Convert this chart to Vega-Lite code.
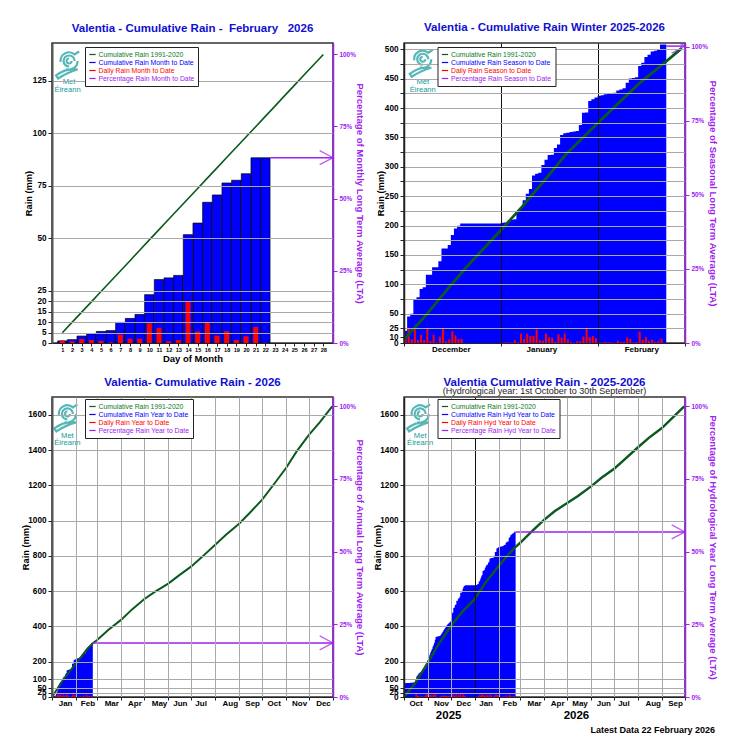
{"$schema":"https://vega.github.io/schema/vega-lite/v6.json","background":"white","padding":{"left":20,"top":21,"right":0,"bottom":0},"bounds":"flush","columns":2,"spacing":{"row":54,"column":71},"resolve":{"scale":{"x":"independent","y":"independent","color":"independent"},"legend":{"color":"independent"},"axis":{"x":"independent","y":"independent"}},
"config":{"font":"Liberation Sans","view":{"stroke":"#333","strokeWidth":1.5},"title":{"font":"Liberation Sans","fontSize":11.5,"fontWeight":"bold","color":"#1010d0","anchor":"middle","offset":9,"subtitleFont":"Liberation Sans","subtitleFontSize":9,"subtitleColor":"#222","subtitlePadding":-1.5},"axis":{"labelFont":"Liberation Sans","titleFont":"Liberation Sans","labelFontWeight":"bold","titleFontWeight":"bold","labelColor":"black","titleColor":"black","labelOverlap":false,"labelBound":false,"labelFlush":false,"tickColor":"#222"},"legend":{"labelFont":"Liberation Sans"}},
"datasets":{
"feb":[{"day":1,"cum":1,"daily":1.2,"lta":4.9},{"day":2,"cum":1.6,"daily":0.8,"lta":9.8},{"day":3,"cum":3.3,"daily":1.9,"lta":14.7},{"day":4,"cum":4.4,"daily":1.4,"lta":19.6},{"day":5,"cum":5.5,"daily":1,"lta":24.5},{"day":6,"cum":5.9,"daily":0.3,"lta":29.4},{"day":7,"cum":9.8,"daily":4,"lta":34.3},{"day":8,"cum":11.7,"daily":2,"lta":39.2},{"day":9,"cum":13.6,"daily":2,"lta":44.2},{"day":10,"cum":23,"daily":9.4,"lta":49.1},{"day":11,"cum":30.2,"daily":7.2,"lta":54},{"day":12,"cum":31,"daily":0.8,"lta":58.9},{"day":13,"cum":32.2,"daily":1.4,"lta":63.8},{"day":14,"cum":51.6,"daily":19.5,"lta":68.7},{"day":15,"cum":57.1,"daily":5.5,"lta":73.6},{"day":16,"cum":67,"daily":10,"lta":78.5},{"day":17,"cum":70.5,"daily":3.5,"lta":83.4},{"day":18,"cum":76.2,"daily":5.6,"lta":88.3},{"day":19,"cum":77.5,"daily":1.4,"lta":93.2},{"day":20,"cum":80.6,"daily":3.2,"lta":98.1},{"day":21,"cum":88.2,"daily":7.6,"lta":103},{"day":22,"cum":88.2,"daily":0.1,"lta":107.9},{"day":23,"lta":112.8},{"day":24,"lta":117.8},{"day":25,"lta":122.7},{"day":26,"lta":127.6},{"day":27,"lta":132.5},{"day":28,"lta":137.4}],
"days":[{"date":"2025-10-01","daily":0,"hyd":78},{"date":"2025-10-02","daily":0,"hyd":78},{"date":"2025-10-03","daily":0,"hyd":79},{"date":"2025-10-04","daily":0,"hyd":79},{"date":"2025-10-05","daily":0,"hyd":79},{"date":"2025-10-06","daily":0,"hyd":80},{"date":"2025-10-07","daily":0,"hyd":80},{"date":"2025-10-08","daily":0,"hyd":80},{"date":"2025-10-09","daily":0,"hyd":81},{"date":"2025-10-10","daily":0,"hyd":81},{"date":"2025-10-11","daily":0,"hyd":81},{"date":"2025-10-12","daily":0,"hyd":82},{"date":"2025-10-13","daily":0,"hyd":82},{"date":"2025-10-14","daily":0,"hyd":82},{"date":"2025-10-15","daily":0,"hyd":83},{"date":"2025-10-16","daily":17,"hyd":100},{"date":"2025-10-17","daily":17,"hyd":117},{"date":"2025-10-18","daily":5,"hyd":122},{"date":"2025-10-19","daily":6,"hyd":128},{"date":"2025-10-20","daily":7,"hyd":135},{"date":"2025-10-21","daily":3,"hyd":138},{"date":"2025-10-22","daily":2,"hyd":140},{"date":"2025-10-23","daily":3,"hyd":143},{"date":"2025-10-24","daily":5,"hyd":148},{"date":"2025-10-25","daily":2,"hyd":150},{"date":"2025-10-26","daily":2,"hyd":152},{"date":"2025-10-27","daily":4,"hyd":156},{"date":"2025-10-28","daily":4,"hyd":160},{"date":"2025-10-29","daily":15,"hyd":175},{"date":"2025-10-30","daily":15,"hyd":190},{"date":"2025-10-31","daily":15,"hyd":205},
{"date":"2025-11-01","daily":10,"hyd":215},{"date":"2025-11-02","daily":13,"hyd":228},{"date":"2025-11-03","daily":12,"hyd":240},{"date":"2025-11-04","daily":12,"hyd":252},{"date":"2025-11-05","daily":10,"hyd":262},{"date":"2025-11-06","daily":10,"hyd":272},{"date":"2025-11-07","daily":13,"hyd":285},{"date":"2025-11-08","daily":12,"hyd":297},{"date":"2025-11-09","daily":11,"hyd":308},{"date":"2025-11-10","daily":17,"hyd":325},{"date":"2025-11-11","daily":15,"hyd":340},{"date":"2025-11-12","daily":2,"hyd":342},{"date":"2025-11-13","daily":1,"hyd":343},{"date":"2025-11-14","daily":1,"hyd":344},{"date":"2025-11-15","daily":1,"hyd":345},{"date":"2025-11-16","daily":1,"hyd":346},{"date":"2025-11-17","daily":4,"hyd":350},{"date":"2025-11-18","daily":6,"hyd":356},{"date":"2025-11-19","daily":8,"hyd":364},{"date":"2025-11-20","daily":6,"hyd":370},{"date":"2025-11-21","daily":8,"hyd":378},{"date":"2025-11-22","daily":6,"hyd":384},{"date":"2025-11-23","daily":8,"hyd":392},{"date":"2025-11-24","daily":8,"hyd":400},{"date":"2025-11-25","daily":5,"hyd":405},{"date":"2025-11-26","daily":6,"hyd":411},{"date":"2025-11-27","daily":5,"hyd":416},{"date":"2025-11-28","daily":4,"hyd":420},{"date":"2025-11-29","daily":4,"hyd":424},{"date":"2025-11-30","daily":4,"hyd":428},
{"date":"2025-12-01","daily":7,"hyd":451,"winter":21},{"date":"2025-12-02","daily":24,"hyd":475,"winter":45},{"date":"2025-12-03","daily":6,"hyd":480,"winter":50},{"date":"2025-12-04","daily":24,"hyd":505,"winter":75},{"date":"2025-12-05","daily":5,"hyd":508,"winter":78},{"date":"2025-12-06","daily":14,"hyd":522,"winter":92},{"date":"2025-12-07","daily":5,"hyd":525,"winter":95},{"date":"2025-12-08","daily":24,"hyd":546,"winter":116},{"date":"2025-12-09","daily":3,"hyd":546,"winter":116},{"date":"2025-12-10","daily":14,"hyd":559,"winter":129},{"date":"2025-12-11","daily":1,"hyd":559,"winter":129},{"date":"2025-12-12","daily":11,"hyd":569,"winter":139},{"date":"2025-12-13","daily":24,"hyd":591,"winter":161},{"date":"2025-12-14","daily":3,"hyd":591,"winter":161},{"date":"2025-12-15","daily":6,"hyd":597,"winter":167},{"date":"2025-12-16","daily":20,"hyd":614,"winter":184},{"date":"2025-12-17","daily":13,"hyd":625,"winter":195},{"date":"2025-12-18","daily":7,"hyd":629.5,"winter":199.5},{"date":"2025-12-19","daily":7,"hyd":633.5,"winter":203.5},{"date":"2025-12-20","daily":0,"hyd":633.5,"winter":203.5},{"date":"2025-12-21","daily":0,"hyd":633.5,"winter":203.5},{"date":"2025-12-22","daily":0,"hyd":633.5,"winter":203.5},{"date":"2025-12-23","daily":0,"hyd":633.5,"winter":203.5},{"date":"2025-12-24","daily":0,"hyd":633.5,"winter":203.5},{"date":"2025-12-25","daily":0,"hyd":633.5,"winter":203.5},{"date":"2025-12-26","daily":0,"hyd":633.5,"winter":203.5},{"date":"2025-12-27","daily":0,"hyd":633.5,"winter":203.5},{"date":"2025-12-28","daily":0,"hyd":633.5,"winter":203.5},{"date":"2025-12-29","daily":0,"hyd":633.5,"winter":203.5},{"date":"2025-12-30","daily":0,"hyd":633.5,"winter":203.5},{"date":"2025-12-31","daily":0,"hyd":633.5,"winter":203.5},
{"date":"2026-01-01","daily":1,"hyd":634.5,"winter":204.5,"year":1},{"date":"2026-01-02","daily":1,"hyd":635,"winter":205,"year":1.5},{"date":"2026-01-03","daily":1,"hyd":636,"winter":206,"year":2.5},{"date":"2026-01-04","daily":1,"hyd":640,"winter":210,"year":6.5},{"date":"2026-01-05","daily":5,"hyd":640.5,"winter":210.5,"year":7},{"date":"2026-01-06","daily":1,"hyd":654,"winter":224,"year":20.5},{"date":"2026-01-07","daily":16,"hyd":660,"winter":230,"year":26.5},{"date":"2026-01-08","daily":7,"hyd":673,"winter":243,"year":39.5},{"date":"2026-01-09","daily":16,"hyd":684,"winter":254,"year":50.5},{"date":"2026-01-10","daily":12,"hyd":692,"winter":262,"year":58.5},{"date":"2026-01-11","daily":12,"hyd":715,"winter":285,"year":81.5},{"date":"2026-01-12","daily":23,"hyd":718,"winter":288,"year":84.5},{"date":"2026-01-13","daily":5,"hyd":720,"winter":290,"year":86.5},{"date":"2026-01-14","daily":4,"hyd":733,"winter":303,"year":99.5},{"date":"2026-01-15","daily":16,"hyd":742,"winter":312,"year":108.5},{"date":"2026-01-16","daily":10,"hyd":750,"winter":320,"year":116.5},{"date":"2026-01-17","daily":9,"hyd":750.5,"winter":320.5,"year":117},{"date":"2026-01-18","daily":2,"hyd":762,"winter":332,"year":128.5},{"date":"2026-01-19","daily":15,"hyd":768,"winter":338,"year":134.5},{"date":"2026-01-20","daily":9,"hyd":784,"winter":354,"year":150.5},{"date":"2026-01-21","daily":16,"hyd":787,"winter":357,"year":153.5},{"date":"2026-01-22","daily":6,"hyd":788,"winter":358,"year":154.5},{"date":"2026-01-23","daily":2,"hyd":789,"winter":359,"year":155.5},{"date":"2026-01-24","daily":0.5,"hyd":790,"winter":360,"year":156.5},{"date":"2026-01-25","daily":3,"hyd":791,"winter":361,"year":157.5},{"date":"2026-01-26","daily":3,"hyd":801,"winter":371,"year":167.5},{"date":"2026-01-27","daily":11,"hyd":822,"winter":392,"year":188.5},{"date":"2026-01-28","daily":25,"hyd":822.5,"winter":392.5,"year":189},{"date":"2026-01-29","daily":10,"hyd":842,"winter":412,"year":208.5},{"date":"2026-01-30","daily":12,"hyd":845,"winter":415,"year":211.5},{"date":"2026-01-31","daily":8,"hyd":848,"winter":418,"year":214.5},
{"date":"2026-02-01","daily":1.2,"hyd":851,"winter":421,"year":217.5},{"date":"2026-02-02","daily":0.8,"hyd":851.6,"winter":421.6,"year":218.1},{"date":"2026-02-03","daily":1.9,"hyd":853.3,"winter":423.3,"year":219.8},{"date":"2026-02-04","daily":1.4,"hyd":854.4,"winter":424.4,"year":220.9},{"date":"2026-02-05","daily":1,"hyd":855.5,"winter":425.5,"year":222},{"date":"2026-02-06","daily":0.3,"hyd":855.9,"winter":425.9,"year":222.4},{"date":"2026-02-07","daily":4,"hyd":859.8,"winter":429.8,"year":226.3},{"date":"2026-02-08","daily":2,"hyd":861.7,"winter":431.7,"year":228.2},{"date":"2026-02-09","daily":2,"hyd":863.6,"winter":433.6,"year":230.1},{"date":"2026-02-10","daily":9.4,"hyd":873,"winter":443,"year":239.5},{"date":"2026-02-11","daily":7.2,"hyd":880.2,"winter":450.2,"year":246.7},{"date":"2026-02-12","daily":0.8,"hyd":881,"winter":451,"year":247.5},{"date":"2026-02-13","daily":1.4,"hyd":882.2,"winter":452.2,"year":248.7},{"date":"2026-02-14","daily":19.5,"hyd":901.6,"winter":471.6,"year":268.1},{"date":"2026-02-15","daily":5.5,"hyd":907.1,"winter":477.1,"year":273.6},{"date":"2026-02-16","daily":10,"hyd":917,"winter":487,"year":283.5},{"date":"2026-02-17","daily":3.5,"hyd":920.5,"winter":490.5,"year":287},{"date":"2026-02-18","daily":5.6,"hyd":926.2,"winter":496.2,"year":292.7},{"date":"2026-02-19","daily":1.4,"hyd":927.5,"winter":497.5,"year":294},{"date":"2026-02-20","daily":3.2,"hyd":930.6,"winter":500.6,"year":297.1},{"date":"2026-02-21","daily":7.6,"hyd":938.2,"winter":508.2,"year":304.7},{"date":"2026-02-22","daily":0.1,"hyd":938.2,"winter":508.2,"year":304.7},{"date":"2026-02-23","hyd":938.2,"winter":508.2,"year":304.7}],
"ltaWinter":[{"date":"2025-12-01","lta":6},{"date":"2025-12-08","lta":47},{"date":"2025-12-15","lta":92},{"date":"2025-12-22","lta":135},{"date":"2026-01-01","lta":192},{"date":"2026-01-08","lta":233},{"date":"2026-01-15","lta":277},{"date":"2026-01-22","lta":322},{"date":"2026-02-01","lta":374},{"date":"2026-02-08","lta":410},{"date":"2026-02-15","lta":445},{"date":"2026-02-22","lta":475},{"date":"2026-02-28","lta":502}],
"ltaYear":[{"date":"2026-01-01","lta":0},{"date":"2026-01-15","lta":95},{"date":"2026-02-01","lta":190},{"date":"2026-02-15","lta":268},{"date":"2026-02-23","lta":305},{"date":"2026-03-01","lta":325},{"date":"2026-03-15","lta":380},{"date":"2026-04-01","lta":439},{"date":"2026-04-15","lta":497},{"date":"2026-05-01","lta":556},{"date":"2026-05-15","lta":598},{"date":"2026-06-01","lta":643},{"date":"2026-06-15","lta":690},{"date":"2026-07-01","lta":741},{"date":"2026-07-15","lta":795},{"date":"2026-08-01","lta":864},{"date":"2026-08-15","lta":920},{"date":"2026-09-01","lta":983},{"date":"2026-09-15","lta":1045},{"date":"2026-10-01","lta":1120},{"date":"2026-10-15","lta":1200},{"date":"2026-11-01","lta":1299},{"date":"2026-11-15","lta":1395},{"date":"2026-12-01","lta":1488},{"date":"2026-12-15","lta":1560},{"date":"2026-12-31","lta":1649}],
"ltaHyd":[{"date":"2025-10-01","lta":0},{"date":"2025-10-15","lta":75},{"date":"2025-11-01","lta":195},{"date":"2025-11-15","lta":300},{"date":"2025-12-01","lta":403},{"date":"2025-12-15","lta":480},{"date":"2026-01-01","lta":556},{"date":"2026-01-15","lta":650},{"date":"2026-02-01","lta":743},{"date":"2026-02-15","lta":815},{"date":"2026-02-22","lta":848},{"date":"2026-03-01","lta":875},{"date":"2026-03-15","lta":935},{"date":"2026-04-01","lta":1005},{"date":"2026-04-15","lta":1055},{"date":"2026-05-01","lta":1100},{"date":"2026-05-15","lta":1140},{"date":"2026-06-01","lta":1195},{"date":"2026-06-15","lta":1245},{"date":"2026-07-01","lta":1295},{"date":"2026-07-15","lta":1350},{"date":"2026-08-01","lta":1417},{"date":"2026-08-15","lta":1470},{"date":"2026-09-01","lta":1526},{"date":"2026-09-15","lta":1585},{"date":"2026-09-30","lta":1649}]
},
"concat":[
{"width":281,"height":300,"title":"Valentia - Cumulative Rain -\u00a0 February\u00a0\u00a0 2026","resolve":{"scale":{"y":"independent"}},
"encoding":{"x":{"field":"day","type":"quantitative","title":"Day of Month","scale":{"domain":[-0.07,29],"nice":false,"zero":false,"padding":0},"axis":{"values":[1,2,3,4,5,6,7,8,9,10,11,12,13,14,15,16,17,18,19,20,21,22,23,24,25,26,27,28],"grid":false,"labelFontSize":5.6,"tickSize":3,"labelPadding":1,"titleFontSize":9.5,"titlePadding":1,"domainColor":"#222","zindex":1}}},
"layer":[
{"encoding":{"y":{"type":"quantitative","scale":{"domain":[0,142.86]},"axis":{"title":"Rain (mm)","titleFontSize":9.3,"titleX":-19,"values":[0,5,10,15,20,25,50,75,100,125],"grid":true,"gridColor":"#aaa","labelFontSize":8.2,"tickSize":4,"domainColor":"#555","domainWidth":2,"zindex":1}}},"layer":[
{"data":{"name":"feb"},"mark":{"type":"bar","width":9.4,"stroke":"black","strokeWidth":0.7},"encoding":{"color":{"datum":"Cumulative Rain Month to Date","scale":{"domain":["Cumulative Rain 1991-2020","Cumulative Rain Month to Date","Daily Rain Month to Date","Percentage Rain Month to Date"],"range":["#0a5a1e","#0000ff","#ff0000","#a020f0"]},"legend":{"title":null,"orient":"none","legendX":33,"legendY":4,"zindex":2,"fillColor":"white","strokeColor":"#222","padding":3.5,"symbolType":"stroke","symbolSize":40,"symbolStrokeWidth":1.2,"labelFontSize":6.85,"labelOffset":2,"rowPadding":0,"labelColor":"#333","encoding":{"labels":{"fill":{"value":{"expr":"indexof(datum.label,'1991')>=0?'#0a7a1e':indexof(datum.label,'Cumulative')>=0?'#0000ff':indexof(datum.label,'Daily')>=0?'#ff0000':'#a020f0'"}}}}}},"y":{"field":"cum"}}},
{"data":{"name":"feb"},"mark":{"type":"bar","width":5},"encoding":{"color":{"datum":"Daily Rain Month to Date"},"y":{"field":"daily"}}},
{"data":{"name":"feb"},"mark":{"type":"line","strokeWidth":1.6},"encoding":{"color":{"datum":"Cumulative Rain 1991-2020"},"y":{"field":"lta"}}},
{"data":{"values":[{"day":1.7,"rain":134.3}]},"mark":{"type":"point","shape":"M0.25,0 A0.25,0.25 0 1 1 0,-0.25 M0,0.55 A0.55,0.55 0 1 1 0.55,0 M-0.85,0.1 A0.85,0.85 0 0 1 0.55,-0.65 L1,-0.95 M0.85,0 A0.85,0.85 0 0 1 -0.3,0.8 M-1.3,1.45 Q-0.3,0.7 0.85,0.85 Q-0.1,1.1 -1.1,1.75 Z","size":400,"filled":false,"color":"#0f9a9a","strokeWidth":2.2},"encoding":{"y":{"field":"rain"}}},
{"data":{"values":[{"day":1.7,"rain":124.3,"label":"Met"},{"day":1.55,"rain":120.7,"label":"Éireann"}]},"mark":{"type":"text","color":"#0f9a9a","fontSize":7.6},"encoding":{"text":{"field":"label"},"y":{"field":"rain"}}}
]},
{"encoding":{"y":{"type":"quantitative","scale":{"domain":[0,103.9]},"axis":{"orient":"right","title":"Percentage  of Monthly Long Term Average (LTA)","titleColor":"#a020f0","titleFontSize":9.6,"titleX":21,"values":[0,25,50,75,100],"labelExpr":"datum.value+'%'","labelColor":"#a020f0","labelFontSize":6.4,"tickColor":"#a020f0","domainColor":"#a020f0","domainWidth":1.5,"tickSize":4,"grid":false,"zindex":1}}},"layer":[
{"data":{"values":[{"day":22.5,"end":29,"pct":64.2}]},"mark":{"type":"rule","strokeWidth":1.5},"encoding":{"color":{"datum":"Percentage Rain Month to Date"},"x2":{"field":"end"},"y":{"field":"pct"}}},
{"data":{"values":[{"day":29,"pct":64.2}]},"mark":{"type":"point","shape":"M-1.9,-1 L0,0 L-1.9,1","size":196,"filled":false,"strokeWidth":1.3},"encoding":{"color":{"datum":"Percentage Rain Month to Date"},"y":{"field":"pct"}}}
]}
]},
{"width":281,"height":300,"title":"Valentia - Cumulative Rain Winter 2025-2026","resolve":{"scale":{"y":"independent"}},
"encoding":{"x":{"field":"date","type":"temporal","title":null,"scale":{"type":"utc","domain":["2025-12-01","2026-03-01"],"padding":0},"axis":{"values":["2025-12-01","2025-12-16","2026-01-01","2026-01-14","2026-02-01","2026-02-15","2026-03-01"],"labelExpr":"utcdate(datum.value)==1?'':utcFormat(datum.value,'%B')","grid":true,"gridColor":"#111","gridOpacity":{"condition":{"test":"utcdate(datum.value)!=1","value":0},"value":1},"tickSize":{"condition":{"test":"utcdate(datum.value)!=1","value":0},"value":3},"labelFontSize":8,"labelPadding":2,"domainColor":"#222","zindex":1}}},
"layer":[
{"encoding":{"y":{"type":"quantitative","scale":{"domain":[0,510.7]},"axis":{"title":"Rain (mm)","titleFontSize":9.3,"titleX":-19,"values":[0,10,25,50,75,100,125,150,175,200,225,250,275,300,325,350,375,400,425,450,475,500],"labelExpr":"datum.value==0||datum.value==10||datum.value==25||datum.value%50==0?datum.value:''","grid":true,"gridColor":"#aaa","gridOpacity":{"condition":{"test":"datum.value==10","value":0},"value":1},"labelFontSize":8.2,"tickSize":4,"domainColor":"#222","domainWidth":1.5,"zindex":1}}},"layer":[
{"data":{"name":"days"},"mark":{"type":"area","interpolate":"step-after"},"encoding":{"color":{"datum":"Cumulative Rain Season to Date","scale":{"domain":["Cumulative Rain 1991-2020","Cumulative Rain Season to Date","Daily Rain Season to Date","Percentage Rain Season to Date"],"range":["#0a5a1e","#0000ff","#ff0000","#a020f0"]},"legend":{"title":null,"orient":"none","legendX":33.5,"legendY":4,"zindex":2,"fillColor":"white","strokeColor":"#222","padding":3.5,"symbolType":"stroke","symbolSize":40,"symbolStrokeWidth":1.2,"labelFontSize":6.85,"labelOffset":2,"rowPadding":0,"encoding":{"labels":{"fill":{"value":{"expr":"indexof(datum.label,'1991')>=0?'#0a7a1e':indexof(datum.label,'Cumulative')>=0?'#0000ff':indexof(datum.label,'Daily')>=0?'#ff0000':'#a020f0'"}}}}}},"y":{"field":"winter"}}},
{"data":{"name":"days"},"transform":[{"filter":"datum.winter!=null"}],"mark":{"type":"bar","width":2,"xOffset":1.5},"encoding":{"color":{"datum":"Daily Rain Season to Date"},"y":{"field":"daily"}}},
{"data":{"name":"ltaWinter"},"mark":{"type":"line","strokeWidth":2.8},"encoding":{"color":{"datum":"Cumulative Rain 1991-2020"},"y":{"field":"lta"}}},
{"data":{"values":[{"date":"2025-12-07","rain":483}]},"mark":{"type":"point","shape":"M0.25,0 A0.25,0.25 0 1 1 0,-0.25 M0,0.55 A0.55,0.55 0 1 1 0.55,0 M-0.85,0.1 A0.85,0.85 0 0 1 0.55,-0.65 L1,-0.95 M0.85,0 A0.85,0.85 0 0 1 -0.3,0.8 M-1.3,1.45 Q-0.3,0.7 0.85,0.85 Q-0.1,1.1 -1.1,1.75 Z","size":400,"filled":false,"color":"#0f9a9a","strokeWidth":2.2},"encoding":{"y":{"field":"rain"}}},
{"data":{"values":[{"date":"2025-12-07","rain":444,"label":"Met"},{"date":"2025-12-07","rain":431,"label":"Éireann"}]},"mark":{"type":"text","color":"#0f9a9a","fontSize":7.6},"encoding":{"text":{"field":"label"},"y":{"field":"rain"}}}
]},
{"encoding":{"y":{"type":"quantitative","scale":{"domain":[0,101.35]},"axis":{"orient":"right","title":"Percentage of Seasonal Long Term Average (LTA)","titleColor":"#a020f0","titleFontSize":9.6,"titleX":22,"values":[0,25,50,75,100],"labelExpr":"datum.value+'%'","labelColor":"#a020f0","labelFontSize":6.4,"tickColor":"#a020f0","domainColor":"#a020f0","domainWidth":1.5,"tickSize":4,"grid":false,"zindex":1}}},"layer":[
{"data":{"values":[{"date":"2026-02-23","end":"2026-03-01","pct":100.3}]},"mark":{"type":"rule","strokeWidth":1.5},"encoding":{"color":{"datum":"Percentage Rain Season to Date"},"x2":{"field":"end"},"y":{"field":"pct"}}},
{"data":{"values":[{"date":"2026-03-01","pct":100.3}]},"mark":{"type":"point","shape":"M-1.9,-1 L0,0 L-1.9,1","size":196,"filled":false,"strokeWidth":1.3,"clip":true},"encoding":{"color":{"datum":"Percentage Rain Season to Date"},"y":{"field":"pct"}}}
]}
]},
{"width":281,"height":300,"title":"Valentia- Cumulative Rain - 2026","resolve":{"scale":{"y":"independent"}},
"encoding":{"x":{"field":"date","type":"temporal","title":null,"scale":{"type":"utc","domain":["2026-01-01","2027-01-01"],"padding":0},"axis":{"values":["2026-01-01","2026-01-18","2026-02-01","2026-02-16","2026-03-01","2026-03-19","2026-04-01","2026-04-18","2026-05-01","2026-05-20","2026-06-01","2026-06-16","2026-07-01","2026-07-13","2026-08-01","2026-08-20","2026-09-01","2026-09-18","2026-10-01","2026-10-16","2026-11-01","2026-11-18","2026-12-01","2026-12-19","2027-01-01"],"labelExpr":"utcdate(datum.value)==1?'':utcFormat(datum.value,'%b')","grid":true,"gridColor":"#aaa","gridOpacity":{"condition":{"test":"utcdate(datum.value)!=1","value":0},"value":1},"tickSize":{"condition":{"test":"utcdate(datum.value)!=1","value":0},"value":3},"labelFontSize":8,"labelPadding":2,"domainColor":"#222","zindex":1}}},
"layer":[
{"encoding":{"y":{"type":"quantitative","scale":{"domain":[0,1702]},"axis":{"title":"Rain (mm)","titleFontSize":9.3,"titleX":-22,"format":"d","values":[0,25,50,100,200,400,600,800,1000,1200,1400,1600],"grid":true,"gridColor":"#aaa","labelFontSize":8.2,"tickSize":4,"domainColor":"#555","domainWidth":2,"zindex":1}}},"layer":[
{"data":{"name":"days"},"mark":{"type":"area","interpolate":"step-after"},"encoding":{"color":{"datum":"Cumulative Rain Year to Date","scale":{"domain":["Cumulative Rain 1991-2020","Cumulative Rain Year to Date","Daily Rain Year to Date","Percentage Rain Year to Date"],"range":["#0a5a1e","#0000ff","#ff0000","#a020f0"]},"legend":{"title":null,"orient":"none","legendX":33,"legendY":2,"zindex":2,"fillColor":"white","strokeColor":"#222","padding":3.5,"symbolType":"stroke","symbolSize":40,"symbolStrokeWidth":1.2,"labelFontSize":6.85,"labelOffset":2,"rowPadding":0,"encoding":{"labels":{"fill":{"value":{"expr":"indexof(datum.label,'1991')>=0?'#0a7a1e':indexof(datum.label,'Cumulative')>=0?'#0000ff':indexof(datum.label,'Daily')>=0?'#ff0000':'#a020f0'"}}}}}},"y":{"field":"year"}}},
{"data":{"name":"days"},"transform":[{"filter":"datum.year!=null"}],"mark":{"type":"bar","width":0.8,"xOffset":0.4},"encoding":{"color":{"datum":"Daily Rain Year to Date"},"y":{"field":"daily"}}},
{"data":{"name":"ltaYear"},"mark":{"type":"line","strokeWidth":2},"encoding":{"color":{"datum":"Cumulative Rain 1991-2020"},"y":{"field":"lta"}}},
{"data":{"values":[{"date":"2026-01-21","rain":1606}]},"mark":{"type":"point","shape":"M0.25,0 A0.25,0.25 0 1 1 0,-0.25 M0,0.55 A0.55,0.55 0 1 1 0.55,0 M-0.85,0.1 A0.85,0.85 0 0 1 0.55,-0.65 L1,-0.95 M0.85,0 A0.85,0.85 0 0 1 -0.3,0.8 M-1.3,1.45 Q-0.3,0.7 0.85,0.85 Q-0.1,1.1 -1.1,1.75 Z","size":400,"filled":false,"color":"#0f9a9a","strokeWidth":2.2},"encoding":{"y":{"field":"rain"}}},
{"data":{"values":[{"date":"2026-01-21","rain":1481,"label":"Met"},{"date":"2026-01-21","rain":1439,"label":"Éireann"}]},"mark":{"type":"text","color":"#0f9a9a","fontSize":7.6},"encoding":{"text":{"field":"label"},"y":{"field":"rain"}}}
]},
{"encoding":{"y":{"type":"quantitative","scale":{"domain":[0,103.2]},"axis":{"orient":"right","title":"Percentage of Annual Long Term Average (LTA)","titleColor":"#a020f0","titleFontSize":9.6,"titleX":21,"values":[0,25,50,75,100],"labelExpr":"datum.value+'%'","labelColor":"#a020f0","labelFontSize":6.4,"tickColor":"#a020f0","domainColor":"#a020f0","domainWidth":1.5,"tickSize":4,"grid":false,"zindex":1}}},"layer":[
{"data":{"values":[{"date":"2026-02-23","end":"2027-01-01","pct":18.6}]},"mark":{"type":"rule","strokeWidth":1.5},"encoding":{"color":{"datum":"Percentage Rain Year to Date"},"x2":{"field":"end"},"y":{"field":"pct"}}},
{"data":{"values":[{"date":"2027-01-01","pct":18.6}]},"mark":{"type":"point","shape":"M-1.9,-1 L0,0 L-1.9,1","size":196,"filled":false,"strokeWidth":1.3},"encoding":{"color":{"datum":"Percentage Rain Year to Date"},"y":{"field":"pct"}}}
]}
]},
{"width":281,"height":300,"title":{"text":"Valentia Cumulative Rain - 2025-2026","subtitle":"(Hydrological year: 1st October to 30th September)","offset":1},"resolve":{"scale":{"y":"independent"}},
"encoding":{"x":{"field":"date","type":"temporal","title":null,"scale":{"type":"utc","domain":["2025-10-01","2026-10-01"],"padding":0},"axis":{"values":["2025-10-01","2025-10-16","2025-11-01","2025-11-18","2025-12-01","2025-12-17","2026-01-01","2026-01-15","2026-02-01","2026-02-15","2026-03-01","2026-03-19","2026-04-01","2026-04-18","2026-05-01","2026-05-17","2026-06-01","2026-06-17","2026-07-01","2026-07-13","2026-08-01","2026-08-20","2026-09-01","2026-09-18","2026-10-01"],"labelExpr":"utcdate(datum.value)==1?'':utcFormat(datum.value,'%b')","grid":true,"gridColor":{"condition":{"test":"utcmonth(datum.value)==0&&utcdate(datum.value)==1","value":"#111"},"value":"#aaa"},"gridOpacity":{"condition":{"test":"utcdate(datum.value)!=1","value":0},"value":1},"tickSize":{"condition":{"test":"utcdate(datum.value)!=1","value":0},"value":3},"labelFontSize":8,"labelPadding":2,"domainColor":"#222","zindex":1}}},
"layer":[
{"encoding":{"y":{"type":"quantitative","scale":{"domain":[0,1702]},"axis":{"title":"Rain (mm)","titleFontSize":9.3,"titleX":-22,"format":"d","values":[0,25,50,100,200,400,600,800,1000,1200,1400,1600],"grid":true,"gridColor":"#aaa","labelFontSize":8.2,"tickSize":4,"domainColor":"#222","domainWidth":1.5,"zindex":1}}},"layer":[
{"data":{"name":"days"},"mark":{"type":"area","interpolate":"step-after"},"encoding":{"color":{"datum":"Cumulative Rain Hyd Year to Date","scale":{"domain":["Cumulative Rain 1991-2020","Cumulative Rain Hyd Year to Date","Daily Rain Hyd Year to Date","Percentage Rain Hyd Year to Date"],"range":["#0a5a1e","#0000ff","#ff0000","#a020f0"]},"legend":{"title":null,"orient":"none","legendX":33.5,"legendY":2,"zindex":2,"fillColor":"white","strokeColor":"#222","padding":3.5,"symbolType":"stroke","symbolSize":40,"symbolStrokeWidth":1.2,"labelFontSize":6.85,"labelOffset":2,"rowPadding":0,"encoding":{"labels":{"fill":{"value":{"expr":"indexof(datum.label,'1991')>=0?'#0a7a1e':indexof(datum.label,'Cumulative')>=0?'#0000ff':indexof(datum.label,'Daily')>=0?'#ff0000':'#a020f0'"}}}}}},"y":{"field":"hyd"}}},
{"data":{"name":"days"},"mark":{"type":"bar","width":0.8,"xOffset":0.4},"encoding":{"color":{"datum":"Daily Rain Hyd Year to Date"},"y":{"field":"daily"}}},
{"data":{"name":"ltaHyd"},"mark":{"type":"line","strokeWidth":2.4},"encoding":{"color":{"datum":"Cumulative Rain 1991-2020"},"y":{"field":"lta"}}},
{"data":{"values":[{"date":"2025-10-22","rain":1606}]},"mark":{"type":"point","shape":"M0.25,0 A0.25,0.25 0 1 1 0,-0.25 M0,0.55 A0.55,0.55 0 1 1 0.55,0 M-0.85,0.1 A0.85,0.85 0 0 1 0.55,-0.65 L1,-0.95 M0.85,0 A0.85,0.85 0 0 1 -0.3,0.8 M-1.3,1.45 Q-0.3,0.7 0.85,0.85 Q-0.1,1.1 -1.1,1.75 Z","size":400,"filled":false,"color":"#0f9a9a","strokeWidth":2.2},"encoding":{"y":{"field":"rain"}}},
{"data":{"values":[{"date":"2025-10-22","rain":1481,"label":"Met"},{"date":"2025-10-22","rain":1439,"label":"Éireann"}]},"mark":{"type":"text","color":"#0f9a9a","fontSize":7.6},"encoding":{"text":{"field":"label"},"y":{"field":"rain"}}},
{"data":{"values":[{"date":"2025-11-28","rain":0,"label":"2025"},{"date":"2026-05-13","rain":0,"label":"2026"}]},"mark":{"type":"text","color":"black","fontSize":11.5,"fontWeight":"bold","dy":19},"encoding":{"text":{"field":"label"},"y":{"field":"rain"}}},
{"data":{"values":[{"date":"2026-11-09","rain":0,"label":"Latest Data 22 February 2026"}]},"mark":{"type":"text","color":"black","fontSize":9,"fontWeight":"bold","align":"right","dy":33},"encoding":{"text":{"field":"label"},"y":{"field":"rain"}}}
]},
{"encoding":{"y":{"type":"quantitative","scale":{"domain":[0,103.2]},"axis":{"orient":"right","title":"Percentage  of Hydrological Year Long Term Average (LTA)","titleColor":"#a020f0","titleFontSize":9.6,"titleX":22,"values":[0,25,50,75,100],"labelExpr":"datum.value+'%'","labelColor":"#a020f0","labelFontSize":6.4,"tickColor":"#a020f0","domainColor":"#a020f0","domainWidth":1.5,"tickSize":4,"grid":false,"zindex":1}}},"layer":[
{"data":{"values":[{"date":"2026-02-23","end":"2026-10-01","pct":56.8}]},"mark":{"type":"rule","strokeWidth":1.5},"encoding":{"color":{"datum":"Percentage Rain Hyd Year to Date"},"x2":{"field":"end"},"y":{"field":"pct"}}},
{"data":{"values":[{"date":"2026-10-01","pct":56.8}]},"mark":{"type":"point","shape":"M-1.9,-1 L0,0 L-1.9,1","size":196,"filled":false,"strokeWidth":1.3},"encoding":{"color":{"datum":"Percentage Rain Hyd Year to Date"},"y":{"field":"pct"}}}
]}
]}
]}
